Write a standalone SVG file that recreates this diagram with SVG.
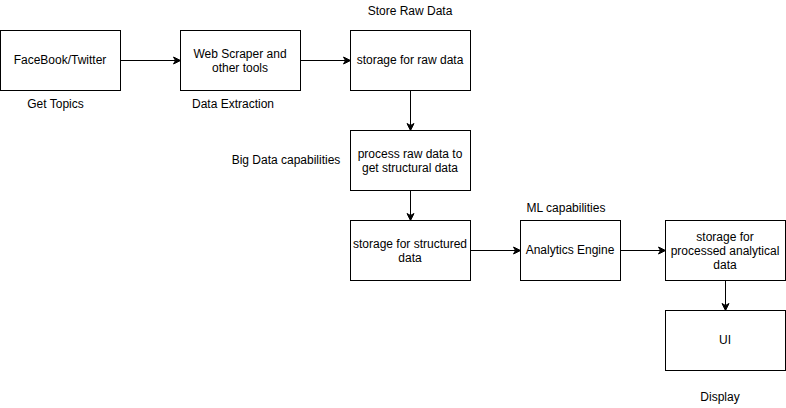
<svg xmlns="http://www.w3.org/2000/svg" width="786" height="408" viewBox="0 0 786 408">
  <style>
    .box { fill: #ffffff; stroke: #000000; stroke-width: 1; }
    .edge { fill: none; stroke: #000000; stroke-width: 1; }
    text { font-family: "Liberation Sans", Arial, Helvetica, sans-serif; font-size: 12px; fill: #000000; text-anchor: middle; }
  </style>
  <defs>
    <marker id="arrow" markerUnits="userSpaceOnUse" markerWidth="10" markerHeight="10" viewBox="-8 -5 10 10" refX="-5" refY="0" orient="auto" overflow="visible">
      <path d="M0,0 L-7,-3.5 L-5,0 L-7,3.5 Z" fill="#000000" stroke="#000000" stroke-width="1" stroke-linejoin="miter"/>
    </marker>
  </defs>
  <rect x="0" y="0" width="786" height="408" fill="#ffffff"/>

  <g id="connectors">
    <path class="edge" d="M120.5,60.5 L175.5,60.5" marker-end="url(#arrow)"/>
    <path class="edge" d="M300.5,60.5 L345.5,60.5" marker-end="url(#arrow)"/>
    <path class="edge" d="M410.5,90.5 L410.5,125.5" marker-end="url(#arrow)"/>
    <path class="edge" d="M410.5,190.5 L410.5,215.5" marker-end="url(#arrow)"/>
    <path class="edge" d="M470.5,250.5 L515.5,250.5" marker-end="url(#arrow)"/>
    <path class="edge" d="M620.5,250.5 L660.5,250.5" marker-end="url(#arrow)"/>
    <path class="edge" d="M725.5,280.5 L725.5,305.5" marker-end="url(#arrow)"/>
  </g>

  <g id="facebook">
    <rect class="box" x="0.5" y="30.5" width="120" height="60"/>
    <text x="60" y="64">FaceBook/Twitter</text>
  </g>
  <g id="scraper">
    <rect class="box" x="180.5" y="30.5" width="120" height="60"/>
    <text x="240" y="57.5">Web Scraper and</text>
    <text x="240" y="71.5">other tools</text>
  </g>
  <g id="raw-storage">
    <rect class="box" x="350.5" y="30.5" width="120" height="60"/>
    <text x="410" y="64">storage for raw data</text>
  </g>
  <g id="process">
    <rect class="box" x="350.5" y="130.5" width="120" height="60"/>
    <text x="410" y="157.5">process raw data to</text>
    <text x="410" y="171.5">get structural data</text>
  </g>
  <g id="structured-storage">
    <rect class="box" x="350.5" y="220.5" width="120" height="60"/>
    <text x="410" y="247.5">storage for structured</text>
    <text x="410" y="261.5">data</text>
  </g>
  <g id="analytics">
    <rect class="box" x="520.5" y="220.5" width="100" height="60"/>
    <text x="570" y="254">Analytics Engine</text>
  </g>
  <g id="processed-storage">
    <rect class="box" x="665.5" y="220.5" width="120" height="60"/>
    <text x="725" y="240.5">storage for</text>
    <text x="725" y="254.5">processed analytical</text>
    <text x="725" y="268.5">data</text>
  </g>
  <g id="ui">
    <rect class="box" x="665.5" y="310.5" width="120" height="60"/>
    <text x="725" y="344">UI</text>
  </g>

  <g id="labels">
    <text x="410" y="15">Store Raw Data</text>
    <text x="55.5" y="107.5">Get Topics</text>
    <text x="233" y="107.5">Data Extraction</text>
    <text x="286" y="163.5">Big Data capabilities</text>
    <text x="566" y="212">ML capabilities</text>
    <text x="720" y="401">Display</text>
  </g>
</svg>
